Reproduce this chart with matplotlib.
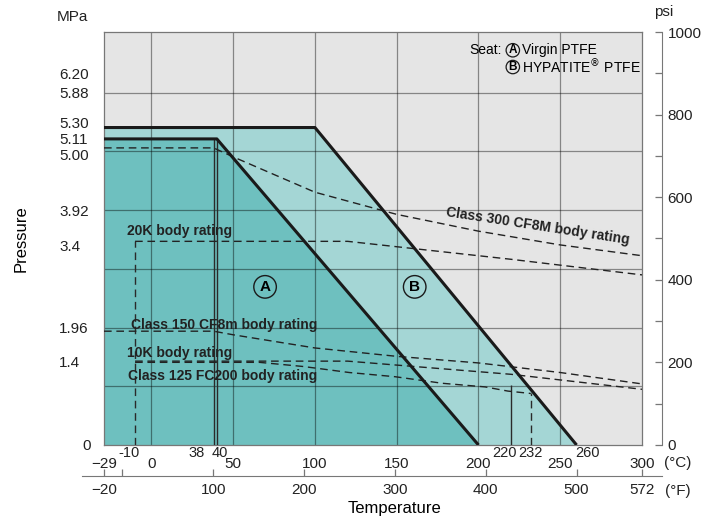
import numpy as np
import matplotlib.pyplot as plt
from matplotlib.transforms import ScaledTranslation

plt.rcParams['font.family'] = ['Liberation Sans', 'DejaVu Sans']

# seat ratings (degC, MPa)
seat_a_t = [-29, 40, 200]
seat_a_p = [5.11, 5.11, 0]
seat_b_t = [-29, 100, 260]
seat_b_p = [5.30, 5.30, 0]

# body ratings (degC, MPa)
cl300_t = [-29, 38, 50, 100, 150, 200, 250, 300]
cl300_p = [4.96, 4.96, 4.81, 4.22, 3.85, 3.57, 3.34, 3.16]
k20_t = [-10, 120, 220, 300]
k20_p = [3.4, 3.4, 3.1, 2.84]
cl150_t = [-29, 38, 50, 100, 150, 200, 250, 300]
cl150_p = [1.90, 1.90, 1.84, 1.62, 1.48, 1.37, 1.21, 1.02]
k10_t = [-10, 120, 220, 300]
k10_p = [1.4, 1.4, 1.18, 0.93]
cl125_t = [-10, 66, 93, 121, 149, 178, 204, 218, 232]
cl125_p = [1.38, 1.38, 1.31, 1.21, 1.14, 1.03, 0.97, 0.90, 0.86]

# marker lines (temperature, top pressure)
solid_t = [38, 40, 220]
solid_top = [5.11, 5.11, 1.0]
dash_t = [-10, 232]
dash_top = [3.4, 0.86]

# axes ticks
c_ticks = [-29, 0, 50, 100, 150, 200, 250, 300]
c_grid = [0, 50, 100, 150, 200, 250]
c_special = [-10, 38, 40, 220, 232, 260]
c_special_dx = [-6, -17, 3, -7, 0, 11]   # label shift in px
f_ticks = [-20, 0, 100, 200, 300, 400, 500, 572]
f_labels = ['\u221220', '', '100', '200', '300', '400', '500', '572']
mpa_ticks = [6.20, 5.88, 5.30, 5.11, 5.00, 3.92, 3.4, 1.96, 1.4, 0]
mpa_labels = ['6.20', '5.88', '5.30', '5.11', '5.00', '3.92', '3.4', '1.96', '1.4', '0']
mpa_grid = [0.98, 1.96, 2.94, 3.92, 4.90, 5.88]
psi_max = 1000
MPA_PER_PSI = 1 / 145.038

col_a = '#6ec0bf'
col_b = '#a4d6d5'
col_bg = '#e5e5e5'
dash = (5.5, 3.4)

fig = plt.figure(figsize=(7.1, 5.24), dpi=100)
W, H = 710, 524
ax = fig.add_axes([104 / W, 1 - 445 / H, 538 / W, 413 / H])
ax.set_facecolor(col_bg)
ax.set_xlim(-29, 300)
ax.set_ylim(0, psi_max * MPA_PER_PSI)

ax.fill(seat_b_t + [-29], seat_b_p + [0], color=col_b, lw=0, zorder=1)
ax.fill(seat_a_t + [-29], seat_a_p + [0], color=col_a, lw=0, zorder=1.1)

for x in c_grid:
    ax.axvline(x, color='k', alpha=0.42, lw=0.9, zorder=2)
for y in mpa_grid:
    ax.axhline(y, color='k', alpha=0.42, lw=0.9, zorder=2)
ax.vlines(solid_t, 0, solid_top, color='#2a2a2a', lw=1.0, zorder=3)
ax.vlines(dash_t, 0, dash_top, color='#2a2a2a', lw=1.0, linestyles=[(0, dash)], zorder=3)

for t, p in [(cl300_t, cl300_p), (k20_t, k20_p), (cl150_t, cl150_p),
             (k10_t, k10_p), (cl125_t, cl125_p)]:
    ax.plot(t, p, color='#222222', lw=1.0, dashes=dash, zorder=4)

ax.plot(seat_b_t, seat_b_p, color='#1a1a1a', lw=2.2, zorder=5, solid_capstyle='butt')
ax.plot(seat_a_t, seat_a_p, color='#1a1a1a', lw=2.2, zorder=5, solid_capstyle='butt')

for s in ax.spines.values():
    s.set_color('#777777')
    s.set_linewidth(0.9)

# labels inside the chart
lab_kw = dict(fontsize=10, fontweight='bold', color='#222222', zorder=6)
ax.text(-15, 3.45, '20K body rating', va='bottom', ha='left', **lab_kw)
ax.text(-12.5, 2.0, 'Class 150 CF8m body rating', va='center', ha='left', **lab_kw)
ax.text(-15, 1.53, '10K body rating', va='center', ha='left', **lab_kw)
ax.text(-14.5, 1.15, 'Class 125 FC200 body rating', va='center', ha='left', **lab_kw)
ax.text(236, 3.65, 'Class 300 CF8M body rating', va='center', ha='center',
        rotation=-8.7, rotation_mode='anchor', **lab_kw)

circ = dict(boxstyle='circle,pad=0.28', fc='none', ec='#1a1a1a', lw=1.0)
ax.text(69.5, 2.64, 'A', ha='center', va='center', fontsize=11, fontweight='bold',
        bbox=circ, zorder=6)
ax.text(161, 2.64, 'B', ha='center', va='center', fontsize=11, fontweight='bold',
        bbox=circ, zorder=6)

# seat legend
small_circ = dict(boxstyle='circle,pad=0.06', fc='none', ec='#1a1a1a', lw=0.9)
ax.text(214.5, 6.59, 'Seat:', ha='right', va='center', fontsize=10)
ax.text(221, 6.59, 'A', ha='center', va='center', fontsize=8.5, fontweight='bold', bbox=small_circ)
ax.text(226.5, 6.59, 'Virgin PTFE', ha='left', va='center', fontsize=10)
ax.text(221, 6.31, 'B', ha='center', va='center', fontsize=8.5, fontweight='bold', bbox=small_circ)
ax.text(226.5, 6.31, 'HYPATITE$^{\u00ae}$ PTFE', ha='left', va='center', fontsize=10)

# left MPa axis
ax.set_yticks(mpa_ticks, mpa_labels)
ax.tick_params(axis='y', length=0, pad=32.4, labelsize=11, colors='#222222')
shift_y = {'5.30': (0, 5), '5.00': (0, -9), '3.4': (0, -4), '0': (23, 0)}
for lab in ax.get_yticklabels():
    lab.set_horizontalalignment('left')
    if lab.get_text() in shift_y:
        dx, dy = shift_y[lab.get_text()]
        lab.set_transform(lab.get_transform() +
                          ScaledTranslation(dx / 100, dy / 100, fig.dpi_scale_trans))
ax.set_ylabel('Pressure', fontsize=12)
ax.yaxis.set_label_coords(-0.14, 0.5)

# bottom degC axis
c_lab = [('\u2212' + str(-v)) if v < 0 else str(v) for v in c_ticks]
ax.set_xticks(c_ticks, c_lab)
ax.tick_params(axis='x', length=0, pad=9, labelsize=11, colors='#222222')
for v, dx in zip(c_special, c_special_dx):
    ax.annotate(str(v), xy=(v, 0), xycoords='data', xytext=(dx * 0.72, -0.5),
                textcoords='offset points', ha='center', va='top', fontsize=10.5,
                color='#222222', annotation_clip=False)

# right psi axis
ax2 = ax.twinx()
ax2.set_ylim(0, psi_max)
for k in ['top', 'left', 'bottom']:
    ax2.spines[k].set_visible(False)
ax2.spines['right'].set_position(('outward', 14.4))
ax2.spines['right'].set_color('#777777')
ax2.set_yticks(np.arange(0, psi_max + 1, 200))
ax2.set_yticks(np.arange(100, psi_max, 200), minor=True)
ax2.tick_params(axis='y', which='both', direction='in', length=5, width=0.9,
                color='#777777', pad=4, labelsize=11, labelcolor='#222222')

# degF axis as its own strip
fl, fr = 82 / W, 662 / W
pos = ax.get_position()
def px_to_c(fx):
    return -29 + (fx - pos.x0) / pos.width * 329
axf = fig.add_axes([fl, 1 - 476 / H, fr - fl, 0.0001])
axf.set_xlim(px_to_c(fl) * 9 / 5 + 32, px_to_c(fr) * 9 / 5 + 32)
axf.set_yticks([])
axf.patch.set_visible(False)
for k in ['top', 'left', 'right']:
    axf.spines[k].set_visible(False)
axf.spines['bottom'].set_color('#777777')
axf.set_xticks(f_ticks, f_labels)
axf.tick_params(axis='x', direction='in', length=5, width=0.9, color='#777777',
                pad=5, labelsize=11, labelcolor='#222222')

fig.text(678 / W, 1 - 463 / H, '(\u00b0C)', ha='center', va='center', fontsize=11, color='#222222')
fig.text(678 / W, 1 - 491 / H, '(\u00b0F)', ha='center', va='center', fontsize=11, color='#222222')
fig.text(394 / W, 1 - 509 / H, 'Temperature', ha='center', va='center', fontsize=12)
fig.text(72 / W, 1 - 17 / H, 'MPa', ha='center', va='center', fontsize=11, color='#222222')
fig.text(664 / W, 1 - 12 / H, 'psi', ha='center', va='center', fontsize=11, color='#222222')

fig.savefig('out.png', dpi=100)
